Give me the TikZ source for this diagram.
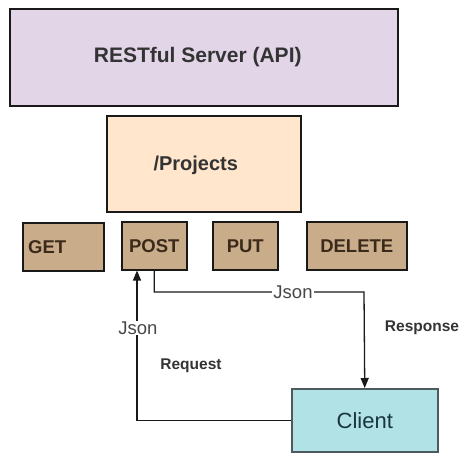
\documentclass[tikz,border=0pt]{standalone}
\usepackage{fontspec}
\setmainfont{Liberation Sans}
\usetikzlibrary{arrows.meta}

\definecolor{srvfill}{HTML}{E1D5E7}
\definecolor{prjfill}{HTML}{FFE6CC}
\definecolor{mthfill}{HTML}{C9AD8A}
\definecolor{clifill}{HTML}{B0E2E6}
\definecolor{mthtext}{HTML}{3B2A1A}
\definecolor{clitext}{HTML}{1A3440}
\definecolor{cliedge}{HTML}{4D5B5E}

\tikzset{
  box/.style={draw=black!90, line width=1.5pt, inner sep=0pt, anchor=north west},
  srvbox/.style={box, fill=srvfill, minimum width=388pt, minimum height=97pt},
  prjbox/.style={box, fill=prjfill, minimum width=194pt, minimum height=96pt},
  mthbox/.style={box, fill=mthfill, minimum height=48pt},
  clibox/.style={box, draw=cliedge, fill=clifill, minimum width=146pt, minimum height=63pt},
  bigtext/.style={font=\bfseries\fontsize{21}{23}\selectfont, text=black!80},
  prjtext/.style={font=\bfseries\fontsize{20}{22}\selectfont, text=black!80},
  mthtext/.style={font=\bfseries\fontsize{18.5}{20}\selectfont, text=mthtext},
  clitext/.style={font=\fontsize{22}{24}\selectfont, text=clitext},
  jsontext/.style={font=\fontsize{18.5}{20}\selectfont, text=black!72, fill=white, inner sep=1pt},
  smalltext/.style={font=\bfseries\fontsize{15.5}{17}\selectfont, text=black!80},
  flow/.style={draw=black!90, line width=1.3pt, -{Triangle[length=10pt,width=8pt]}}
}

\begin{document}
\begin{tikzpicture}[x=1pt, y=-1pt]
  \useasboundingbox (0,0) rectangle (462,453);

  % server and resource
  \node[srvbox, label={[bigtext, xshift=-6pt]center:RESTful Server (API)}] (server) at (9,8) {};
  \node[prjbox, label={[prjtext, xshift=-8pt, yshift=-2pt]center:/Projects}] (projects) at (106,115) {};

  % HTTP methods
  \node[mthbox, minimum width=81pt, label={[mthtext, xshift=-16pt]center:GET}] (get) at (22,222) {};
  \node[mthbox, minimum width=65pt, label={[mthtext]center:POST}] (post) at (121,221) {};
  \node[mthbox, minimum width=65pt, label={[mthtext]center:PUT}] (put) at (212,221) {};
  \node[mthbox, minimum width=100pt, label={[mthtext]center:DELETE}] (delete) at (306,221) {};

  % client
  \node[clibox, label={[clitext]center:Client}] (client) at (291,388) {};

  % request: client -> POST
  \coordinate (reqx) at (137,0);
  \draw[flow] (client.west) -| (reqx |- post.south);

  % response: POST -> client
  \coordinate (turn) at (364,292);
  \draw[flow] (post.south) |- (turn) -- (client.north);

  % connector labels
  \node[jsontext] (json1) at (293,292) {Json};
  \node[jsontext] (json2) at (138,328) {Json};
  \node[smalltext] (resp) at (422,328) {Response};
  \node[smalltext] (req) at (191,366) {Request};
\end{tikzpicture}
\end{document}
